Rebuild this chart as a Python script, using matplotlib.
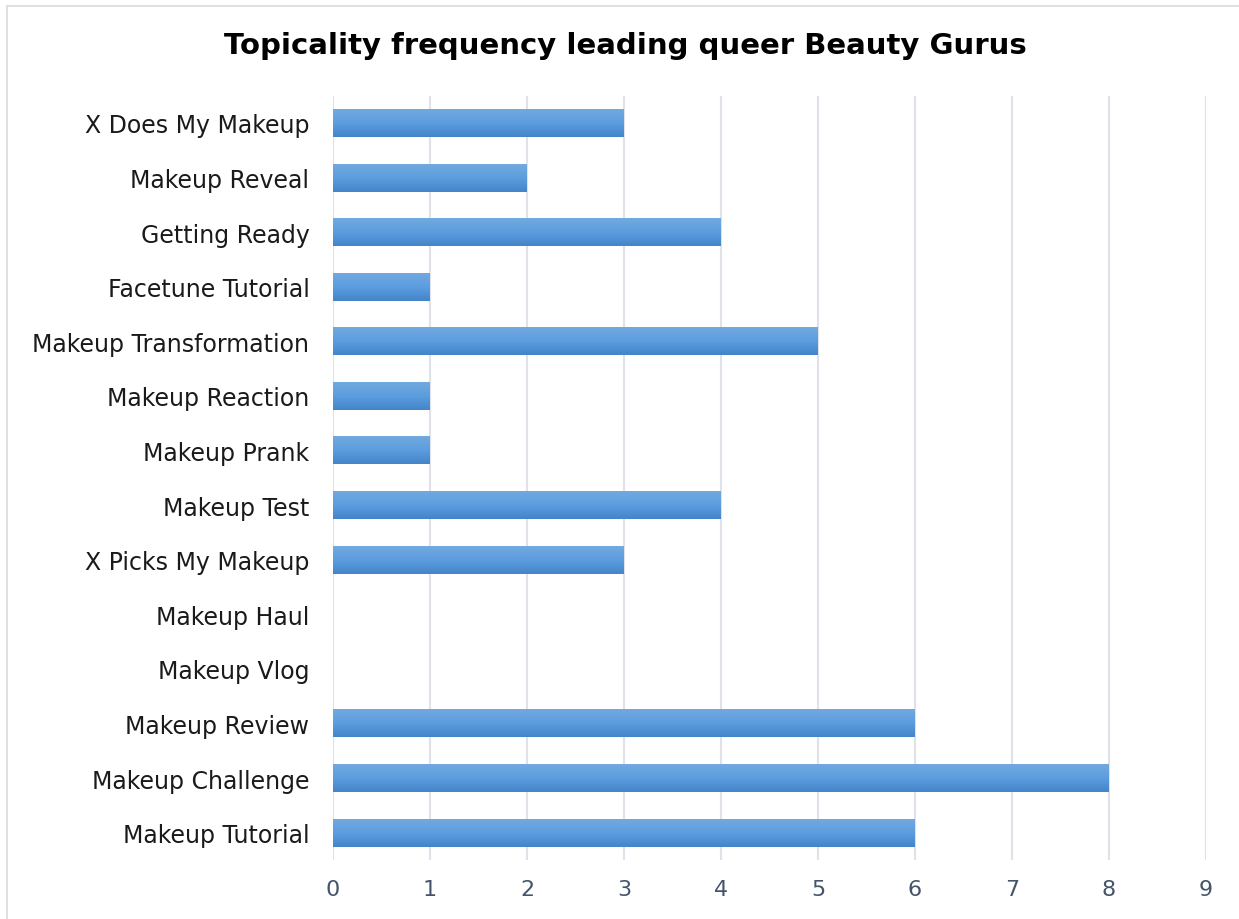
import matplotlib.pyplot as plt
import numpy as np
from matplotlib.patches import Rectangle
from matplotlib.colors import LinearSegmentedColormap

# data, top to bottom as in the picture
topics = ['X Does My Makeup', 'Makeup Reveal', 'Getting Ready', 'Facetune Tutorial',
          'Makeup Transformation', 'Makeup Reaction', 'Makeup Prank', 'Makeup Test',
          'X Picks My Makeup', 'Makeup Haul', 'Makeup Vlog', 'Makeup Review',
          'Makeup Challenge', 'Makeup Tutorial']
counts = [3, 2, 4, 1, 5, 1, 1, 4, 3, 0, 0, 6, 8, 6]

fig = plt.figure(figsize=(12.39, 9.2), dpi=100)
ax = fig.add_axes([0.2688, 0.0641, 0.7046, 0.8308])

# light frame around the chart area
fig.patches.append(Rectangle((7/1239, -0.05), 1.2, 1.05 - 7/920, transform=fig.transFigure,
                             fill=False, edgecolor='#d9d9d9', linewidth=1.2))

ypos = np.arange(len(topics))[::-1]
bars = ax.barh(ypos, counts, height=0.51, color='none')

# vertical gradient for each bar (lighter on top)
grad = LinearSegmentedColormap.from_list('g', ['#4485c9', '#5c9de0', '#72a9de'])
img = np.linspace(0, 1, 64).reshape(-1, 1)
for b in bars:
    w = b.get_width()
    if w <= 0:
        continue
    x0, y0, h = b.get_x(), b.get_y(), b.get_height()
    ax.imshow(img, cmap=grad, aspect='auto', origin='lower',
              extent=(x0, x0 + w, y0, y0 + h), zorder=2, interpolation='bilinear')

ax.set_xlim(0, 9)
ax.set_ylim(-0.5, len(topics) - 0.5)
ax.set_xticks(range(10))
ax.set_yticks(ypos)
ax.set_yticklabels(topics)

ax.grid(axis='x', color='#dfe2e8', linewidth=1.5, zorder=0)
ax.set_axisbelow(True)
for s in ax.spines.values():
    s.set_visible(False)
ax.tick_params(axis='both', length=0)
ax.tick_params(axis='y', labelsize=17, labelcolor='#1a1a1a', pad=17)
ax.tick_params(axis='x', labelsize=16, labelcolor='#44546a', pad=14)

fig.text(0.505, 0.950, 'Topicality frequency leading queer Beauty Gurus',
         ha='center', va='center', fontsize=21, fontweight='bold', color='black')

fig.savefig('out.png', dpi=100)
